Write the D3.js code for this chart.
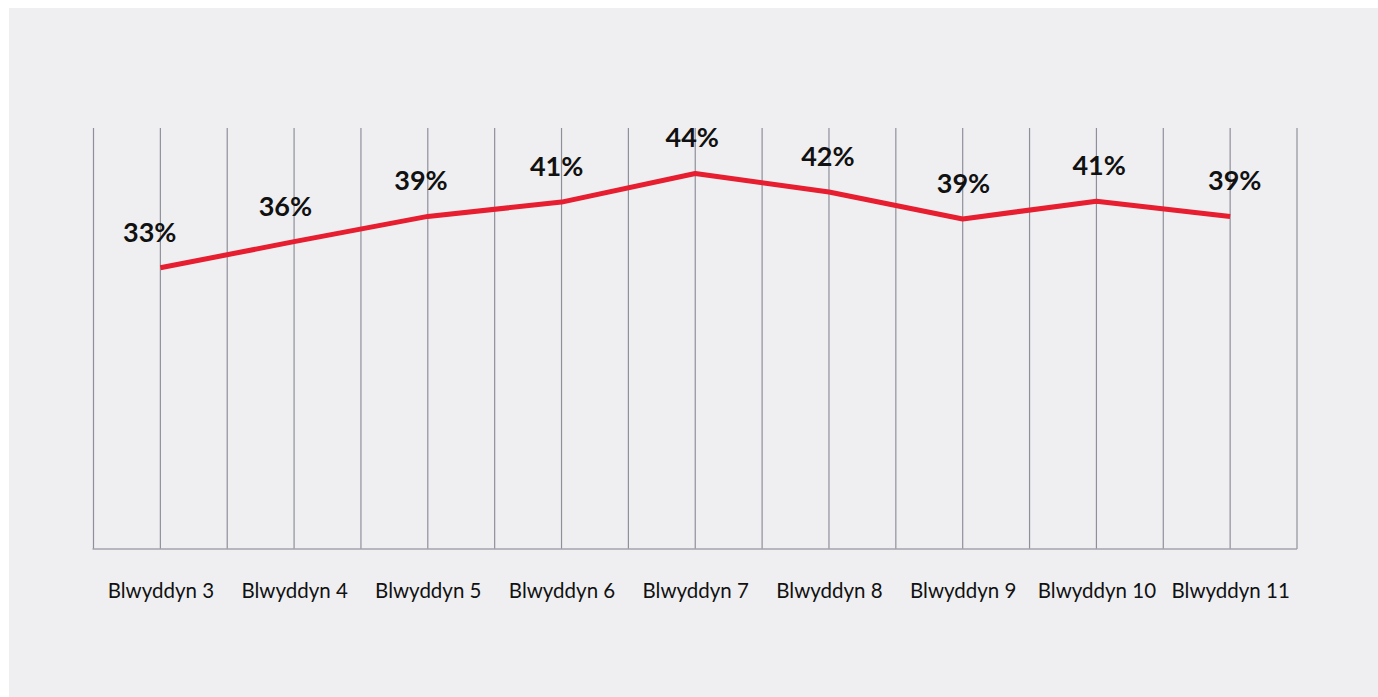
<!DOCTYPE html>
<html>
<head>
<meta charset="utf-8">
<script src="https://cdn.jsdelivr.net/npm/d3@7"></script>
<style>
  html, body { margin: 0; padding: 0; background: #fff; }
  svg { display: block; }
  .grid line { stroke: #8f8f9b; stroke-width: 1.2; }
  .baseline { stroke: #a3a3ad; stroke-width: 1.5; }
  .x-label { font-family: Lato, sans-serif; font-size: 20.5px; fill: #111; }
  .value-label { font-family: Lato, sans-serif; font-weight: 700; font-size: 27px; fill: #111; }
  .line { fill: none; stroke: #e61e30; stroke-width: 5; stroke-linejoin: round; }
</style>
</head>
<body>
<div id="chart"></div>
<script>

// Data
var years = ['Blwyddyn 3', 'Blwyddyn 4', 'Blwyddyn 5', 'Blwyddyn 6', 'Blwyddyn 7',
             'Blwyddyn 8', 'Blwyddyn 9', 'Blwyddyn 10', 'Blwyddyn 11'];
var values = [33.4, 36.5, 39.5, 41.2, 44.6, 42.4, 39.2, 41.3, 39.5];
var valueLabels = ['33%', '36%', '39%', '41%', '44%', '42%', '39%', '41%', '39%'];

var width = 1378, height = 697;
var margin = {top: 128, left: 93.5, right: 81, bottom: 148};

var svg = d3.select('#chart').append('svg')
  .attr('width', width)
  .attr('height', height);

// panel background
svg.append('rect')
  .attr('x', 9)
  .attr('y', 8)
  .attr('width', width - 9)
  .attr('height', height - 8)
  .attr('fill', '#efeff2');

var x = d3.scalePoint()
  .domain(years)
  .range([margin.left, width - margin.right])
  .padding(0.5);

var y = d3.scaleLinear()
  .domain([0, 50])
  .range([height - margin.bottom, margin.top]);

var step = x.step();

// Vertical grid: band edges and band centres
var gridX = [];
years.forEach(function(d, i) {
  gridX.push(x(d) - step / 2);
  gridX.push(x(d));
});
gridX.push(x(years[years.length - 1]) + step / 2);

svg.append('g')
  .attr('class', 'grid')
  .selectAll('line')
  .data(gridX)
  .enter().append('line')
  .attr('x1', function(d) { return d; })
  .attr('x2', function(d) { return d; })
  .attr('y1', y(50))
  .attr('y2', y(0));

svg.append('line')
  .attr('class', 'baseline')
  .attr('x1', gridX[0] - 1)
  .attr('x2', gridX[gridX.length - 1])
  .attr('y1', y(0))
  .attr('y2', y(0));

// X labels
var xAxis = d3.axisBottom(x).tickSize(0).tickPadding(0);
var gx = svg.append('g')
  .attr('transform', 'translate(0,' + y(0) + ')')
  .call(xAxis);
gx.select('.domain').remove();
gx.selectAll('text')
  .attr('class', 'x-label')
  .attr('fill', null)
  .attr('font-family', null)
  .attr('font-size', null)
  .attr('dy', null)
  .attr('y', 49);

// Line
var line = d3.line()
  .x(function(d, i) { return x(years[i]); })
  .y(function(d) { return y(d); });

svg.append('path')
  .datum(values)
  .attr('class', 'line')
  .attr('d', line);

// Value labels (they fan out slightly from the middle)
svg.append('g')
  .selectAll('text')
  .data(values)
  .enter().append('text')
  .attr('class', 'value-label')
  .attr('text-anchor', 'middle')
  .attr('x', function(d, i) { return x(years[i]) + (i - 4) * 1.9 - 3; })
  .attr('y', function(d) { return y(d) - 26; })
  .text(function(d, i) { return valueLabels[i]; });

</script>
</body>
</html>
